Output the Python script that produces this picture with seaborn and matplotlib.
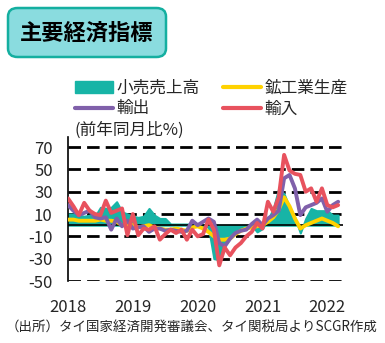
import numpy as np
import pandas as pd
import matplotlib
matplotlib.use("Agg")
import matplotlib.pyplot as plt
import seaborn as sns
from matplotlib.patches import FancyBboxPatch, Patch
from matplotlib.lines import Line2D

sns.set_style("white")
plt.rcParams['font.family'] = ['Noto Sans CJK JP', 'DejaVu Sans']

# Monthly data, Jan 2018 - Mar 2022 (YoY %)
retail = [10, 10, 9, 8, 9, 8, 16, 15, 16, 21, 12, 10,
          8, 7, 8, 15, 9, 6, 6, 1, 1, 1, 1, 1,
          1, 0, -2, -30, -31, -18, -12, -7, -3, -1, 0, -6,
          -3, 5, 15, 33, 28, 16, 7, -7, 6, 15, 13, 13,
          13, 9, 9]
industrial = [5, 5, 4, 4, 4, 4, 5, 4, 4, 3, 0, 1,
              0, -2, -1, 0, -2, -3, -4, -4, -3, -4, -5, -2,
              -1, -3, -6, -10, -13, -13, -12, -8, -5, -3, -2, -1,
              0, 3, 7, 14, 25, 17, 6, -3, 0, 2, 4, 6,
              4, 2, -1]
exports = [18, 13, 9, 11, 13, 7, 6, 7, -4, 6, -1, 4,
           -3, -2, -1, -6, -3, -3, -5, -4, -5, -6, -5, 4,
           0, 3, 6, 3, -16, -19, -12, -7, -5, -4, 1, 5,
           0, 6, 9, 13, 42, 45, 33, 9, 16, 18, 20, 24,
           12, 18, 21]
imports = [24, 17, 9, 20, 13, 10, 9, 22, 11, 13, 15, -9,
           10, -9, -3, -4, -1, -13, -8, -4, -7, -4, -13, -4,
           -10, -8, 5, -4, -36, -20, -27, -20, -16, -10, -6, 2,
           -3, 21, 12, 25, 63, 49, 46, 45, 30, 33, 21, 33,
           18, 16, 18]
years = ["2018", "2019", "2020", "2021", "2022"]
y_ticks = [70, 50, 30, 10, -10, -30, -50]

n = len(imports)
months = np.arange(n)
df = pd.DataFrame({"m": months, "小売売上高": retail, "鉱工業生産": industrial,
                   "輸出": exports, "輸入": imports})

c_teal = "#17B4A6"
c_yel = "#FFD200"
c_pur = "#8060AA"
c_red = "#E8525E"

fig = plt.figure(figsize=(3.85, 3.43), dpi=100)
ax = fig.add_axes([68/385, 1-281/343, (343-68)/385, (281-137)/343])

for yv in y_ticks:
    ax.axhline(yv, color="black", lw=2, ls=(0, (4.5, 2.2)), zorder=1)

ax.fill_between(df["m"], 0, df["小売売上高"], color=c_teal, edgecolor=c_teal,
                lw=1.5, zorder=2)
ax.axhline(0, color="black", lw=1.2, zorder=3)
lw = 2.8
sns.lineplot(data=df, x="m", y="鉱工業生産", color=c_yel, lw=lw, ax=ax, zorder=4)
sns.lineplot(data=df, x="m", y="輸出", color=c_pur, lw=lw, ax=ax, zorder=5)
sns.lineplot(data=df, x="m", y="輸入", color=c_red, lw=lw, ax=ax, zorder=6)

ax.set_xlim(0, 50.9)
ax.set_ylim(-50, 79)
ax.set_yticks(y_ticks)
ax.set_yticklabels([str(v) for v in y_ticks], fontsize=12)
ax.set_xticks([0, 12, 24, 36, 48])
ax.set_xticklabels(years, fontsize=12)
ax.tick_params(axis="x", length=0, pad=13)
ax.tick_params(axis="y", length=0, pad=11)
ax.set_xlabel("")
ax.set_ylabel("")
for s in ["top", "right", "bottom"]:
    ax.spines[s].set_visible(False)
ax.spines["left"].set_color("black")
ax.spines["left"].set_linewidth(1.2)

# Title box
box = FancyBboxPatch((8/385, 1-57/343), (166-8)/385, (57-8)/343,
                     boxstyle="round,pad=0,rounding_size=0.025",
                     transform=fig.transFigure, facecolor="#8ADCDF",
                     edgecolor="#14AFA0", lw=1.8)
fig.patches.append(box)
fig.text(87/385, 1-33/343, "主要経済指標", ha="center", va="center",
         fontsize=16, fontweight="bold", color="black")

# column-major order so rows read: 小売売上高, 鉱工業生産 / 輸出, 輸入
handles = [Patch(facecolor=c_teal, edgecolor=c_teal),
           Line2D([], [], color=c_pur, lw=3),
           Line2D([], [], color=c_yel, lw=3),
           Line2D([], [], color=c_red, lw=3)]
labels = ["小売売上高", "輸出", "鉱工業生産", "輸入"]
fig.legend(handles, labels, loc="upper left", bbox_to_anchor=(75/385, 1-80/343),
           ncol=2, frameon=False, fontsize=12, handlelength=2.3,
           handletextpad=0.2, columnspacing=1.4, labelspacing=0.2,
           borderaxespad=0, borderpad=0)
fig.text(74/385, 1-130/343, "(前年同月比%)", ha="left", va="center", fontsize=12)

fig.text(192/385, 1-328/343, "（出所）タイ国家経済開発審議会、タイ関税局よりSCGR作成",
         ha="center", va="center", fontsize=9.7)

fig.savefig("out.png", dpi=100)
